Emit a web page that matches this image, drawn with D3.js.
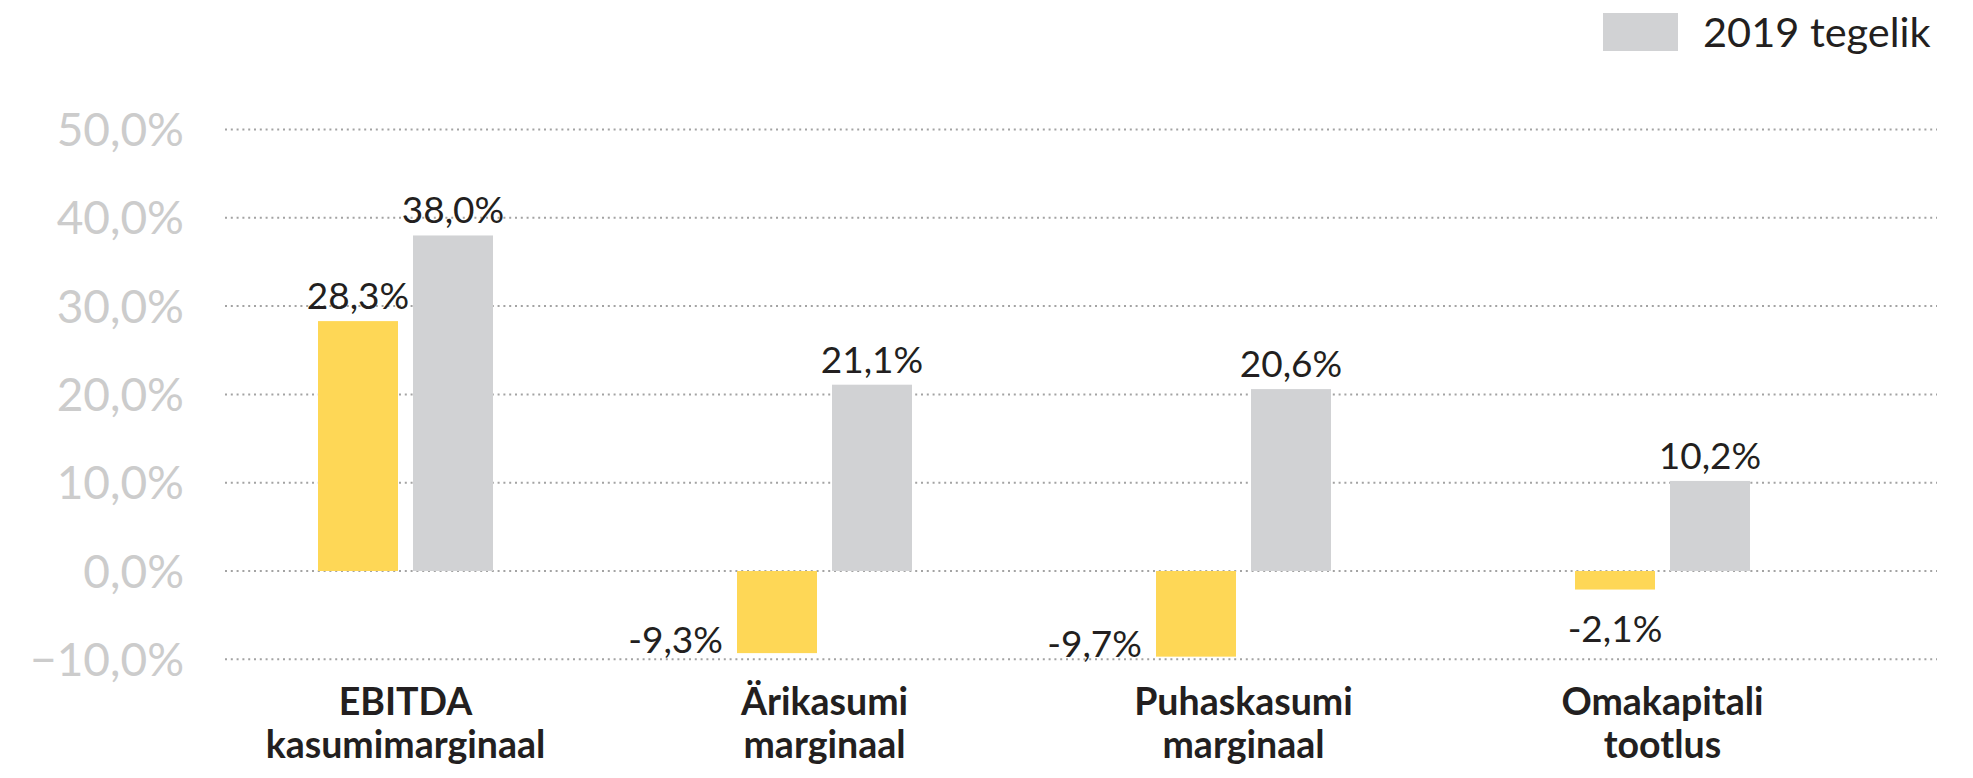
<!DOCTYPE html>
<html>
<head>
<meta charset="utf-8">
<script src="https://cdn.jsdelivr.net/npm/d3@7"></script>
<style>
	body { margin: 0; background: #fff; }
	svg { display: block; font-family: Lato, "Open Sans", sans-serif; }
</style>
</head>
<body>
<svg id="chart" width="1973" height="778"></svg>
<script>
// données
const categories = [
	["EBITDA", "kasumimarginaal"],
	["Ärikasumi", "marginaal"],
	["Puhaskasumi", "marginaal"],
	["Omakapitali", "tootlus"]
];
const series = ["prognoos", "2019 tegelik"];
const prognoos = [28.3, -9.3, -9.7, -2.1];
const tegelik2019 = [38.0, 21.1, 20.6, 10.2];
const yTicks = [-10, 0, 10, 20, 30, 40, 50];
const legendItems = ["2019 tegelik"];

const colors = {"prognoos": "#fed756", "2019 tegelik": "#d1d2d4"};
const values = {"prognoos": prognoos, "2019 tegelik": tegelik2019};

let svg = d3.select("#chart");

let et = d3.formatLocale({decimal: ",", thousands: " ", grouping: [3], currency: ["", "€"], minus: "\u2212"});
let etLabel = d3.formatLocale({decimal: ",", thousands: " ", grouping: [3], currency: ["", "€"], minus: "-"});
let fmtAxis = v => et.format(".1f")(v) + "%";
let fmtLabel = v => etLabel.format(".1f")(v) + "%";

let y = d3.scaleLinear()
	.domain([-10, 50])
	.range([659.3, 129.5]);
let x0 = d3.scaleBand()
	.domain(d3.range(categories.length))
	.range([196, 1872]);
let x1 = d3.scaleBand()
	.domain(series)
	.range([-87.5, 87.5])
	.paddingInner(0.158);

// grille pointillée
svg.append("g")
	.selectAll("line")
	.data(yTicks)
	.join("line")
	.attr("x1", 225)
	.attr("x2", 1937)
	.attr("y1", d => y(d))
	.attr("y2", d => y(d))
	.attr("stroke", "#a3a3a3")
	.attr("stroke-width", 2)
	.attr("stroke-dasharray", "2,3.8");

// étiquettes de l'axe Y
svg.append("g")
	.selectAll("text")
	.data(yTicks)
	.join("text")
	.attr("x", 184)
	.attr("y", d => y(d))
	.attr("dy", "0.36em")
	.attr("text-anchor", "end")
	.attr("font-size", 46)
	.attr("fill", "#cccccc")
	.text(fmtAxis);

// barres
let rows = [];
categories.forEach((c, i) => series.forEach(s => rows.push({i, s, v: values[s][i]})));

svg.append("g")
	.selectAll("rect")
	.data(rows)
	.join("rect")
	.attr("x", d => x0(d.i) + x0.bandwidth() / 2 + x1(d.s))
	.attr("width", x1.bandwidth())
	.attr("y", d => y(Math.max(0, d.v)))
	.attr("height", d => Math.abs(y(d.v) - y(0)))
	.attr("fill", d => colors[d.s]);

// valeurs des barres
svg.append("g")
	.selectAll("text")
	.data(rows)
	.join("text")
	.attr("font-size", 37)
	.attr("fill", "#231f20")
	.each(function(d) {
		let t = d3.select(this);
		let left = x0(d.i) + x0.bandwidth() / 2 + x1(d.s);
		let mid = left + x1.bandwidth() / 2;
		if (d.v >= 0) {
			t.attr("x", mid).attr("y", y(d.v) - 12).attr("text-anchor", "middle");
		} else if (d.v < -5) {
			t.attr("x", left - 14).attr("y", y(d.v)).attr("text-anchor", "end");
		} else {
			t.attr("x", mid).attr("y", y(d.v) + 52).attr("text-anchor", "middle");
		}
	})
	.text(d => fmtLabel(d.v));

// catégories
svg.append("g")
	.selectAll("text")
	.data(categories)
	.join("text")
	.attr("font-size", 37.5)
	.attr("font-weight", "bold")
	.attr("fill", "#231f20")
	.attr("text-anchor", "middle")
	.each(function(c, i) {
		let t = d3.select(this);
		let cx = x0(i) + x0.bandwidth() / 2;
		c.forEach((line, k) => {
			t.append("tspan").attr("x", cx).attr("y", 715 + k * 43).text(line);
		});
	});

// légende
let leg = svg.append("g")
	.selectAll("g")
	.data(legendItems)
	.join("g");
leg.append("rect")
	.attr("x", 1603)
	.attr("y", 13)
	.attr("width", 75)
	.attr("height", 38)
	.attr("fill", d => colors[d]);
leg.append("text")
	.attr("x", 1703)
	.attr("y", 47)
	.attr("font-size", 41.5)
	.attr("fill", "#231f20")
	.text(d => d);
</script>
</body>
</html>
